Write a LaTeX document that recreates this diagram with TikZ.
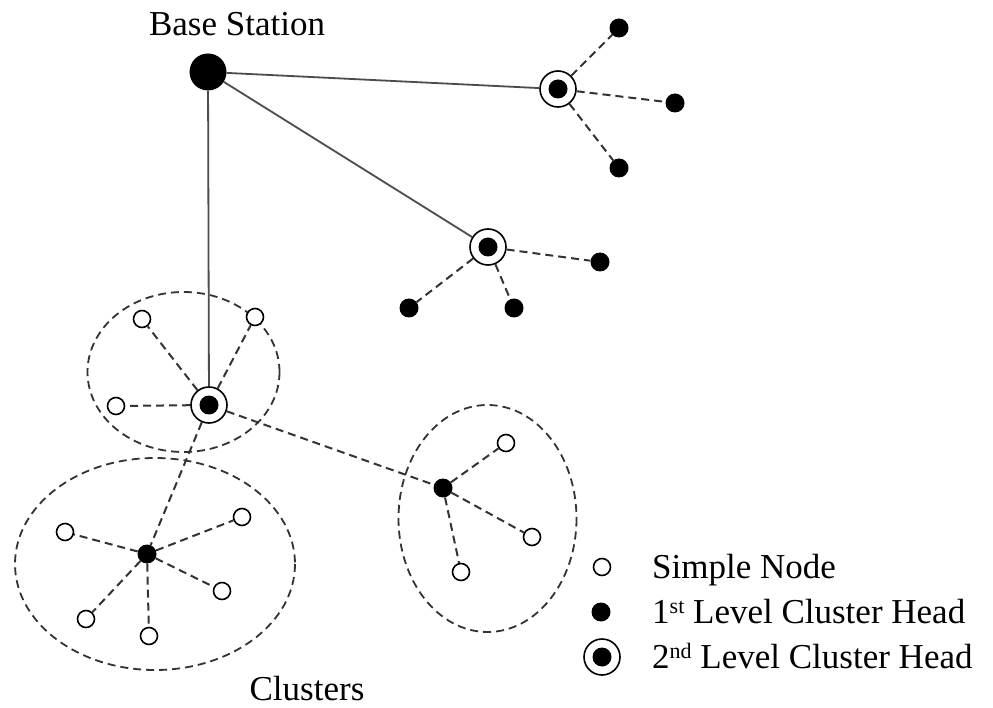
\documentclass[tikz,border=0pt]{standalone}
\usepackage{fontspec}
\setmainfont{Liberation Serif}
\begin{document}
\begin{tikzpicture}[x=1pt,y=-1pt,
  simplenode/.style={circle,draw,line width=1.6pt,fill=white,minimum size=17pt,inner sep=0pt},
  headone/.style={circle,fill=black,minimum size=19pt,inner sep=0pt},
  headtwo/.style={circle,draw,line width=1.6pt,fill=white,minimum size=36pt,inner sep=0pt,
     path picture={\fill[black] (path picture bounding box.center) circle (9.5pt);}},
  basenode/.style={circle,fill=black,minimum size=37pt,inner sep=0pt},
  solidlink/.style={line width=1.8pt,draw=black!70},
  dashlink/.style={line width=2pt,dash pattern=on 8pt off 5pt,draw=black!80},
  clusterline/.style={line width=1.8pt,dash pattern=on 8pt off 5pt,draw=black!80},
  lbl/.style={font=\fontsize{35}{40}\selectfont,inner sep=0pt}]
\useasboundingbox (0,0) rectangle (993,708);
\fill[white] (0,0) rectangle (993,708);

% cluster outlines
\draw[clusterline] (183.5,372) ellipse [x radius=96,y radius=80];
\draw[clusterline] (155,564) ellipse [x radius=140,y radius=106];
\draw[clusterline] (487.5,518.5) ellipse [x radius=89,y radius=113.5];

% nodes
\node[basenode] (bs) at (208,72) {};
\node[headtwo] (c2a) at (558,89) {};
\node[headtwo] (c2b) at (488,247) {};
\node[headtwo] (c2c) at (209,405) {};

\node[headone] (a1) at (619,28) {};
\node[headone] (a2) at (675,103) {};
\node[headone] (a3) at (619,168) {};
\node[headone] (b1) at (600,262) {};
\node[headone] (b2) at (409,308) {};
\node[headone] (b3) at (514,308) {};

\node[headone] (h1) at (147,554) {};
\node[headone] (h2) at (443,488) {};

\node[simplenode] (s1) at (142,319) {};
\node[simplenode] (s2) at (255,317) {};
\node[simplenode] (s3) at (116,406) {};

\node[simplenode] (l1) at (65,532) {};
\node[simplenode] (l2) at (242,517) {};
\node[simplenode] (l3) at (222,591) {};
\node[simplenode] (l4) at (86,619) {};
\node[simplenode] (l5) at (149,636) {};

\node[simplenode] (r1) at (506,443) {};
\node[simplenode] (r2) at (532,537) {};
\node[simplenode] (r3) at (461,572) {};

% connectors
\draw[solidlink] (bs) -- (c2a);
\draw[solidlink] (bs) -- (c2b);
\draw[solidlink] (bs) -- (c2c);

\foreach \n in {a1,a2,a3} \draw[dashlink] (c2a) -- (\n);
\foreach \n in {b1,b2,b3} \draw[dashlink] (c2b) -- (\n);
\foreach \n in {s1,s2,s3} \draw[dashlink] (c2c) -- (\n);
\draw[dashlink] (c2c) -- (h1);
\draw[dashlink] (c2c) -- (h2);
\foreach \n in {l1,l2,l3,l4,l5} \draw[dashlink] (h1) -- (\n);
\foreach \n in {r1,r2,r3} \draw[dashlink] (h2) -- (\n);

% labels
\node[lbl,anchor=base] (bslabel) at (237,36) {Base Station};
\node[lbl,anchor=base] (cllabel) at (307,700) {Clusters};

% legend
\node[simplenode] (k1) at (602,567) {};
\node[headone] (k2) at (601,612) {};
\node[headtwo] (k3) at (602,657) {};
\node[lbl,anchor=base west] (t1) at (652,578) {Simple Node};
\node[lbl,anchor=base west] (t2) at (652,623) {1{\fontsize{22}{24}\selectfont\raisebox{10pt}{st}} Level Cluster Head};
\node[lbl,anchor=base west] (t3) at (652,668) {2{\fontsize{22}{24}\selectfont\raisebox{10pt}{nd}} Level Cluster Head};
\end{tikzpicture}
\end{document}
